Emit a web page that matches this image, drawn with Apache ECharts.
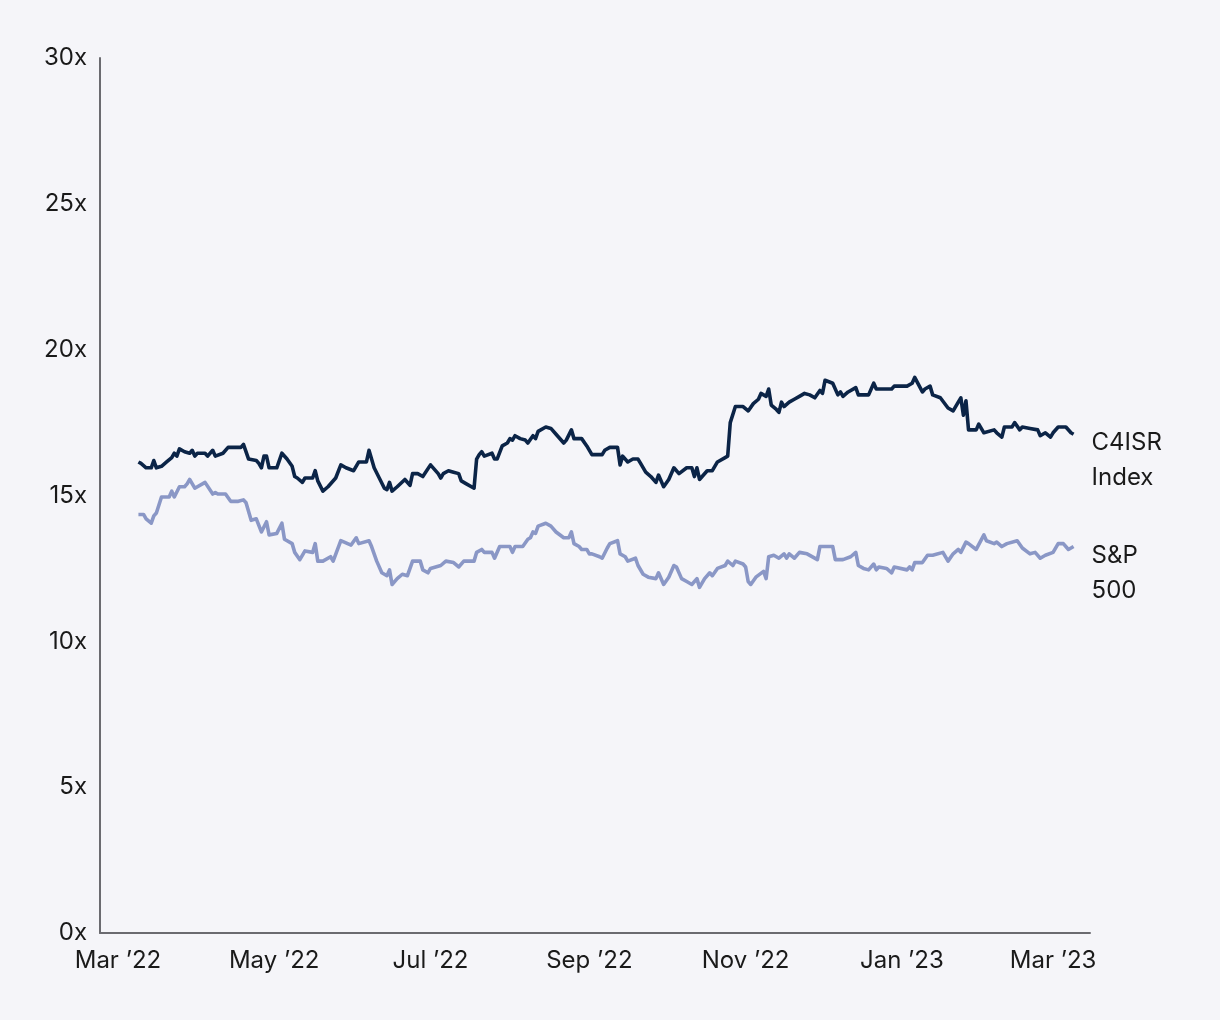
<!DOCTYPE html>
<html>
<head>
<meta charset="utf-8">
<script src="https://cdn.jsdelivr.net/npm/echarts@6/dist/echarts.min.js"></script>
<style>
html,body{margin:0;padding:0;background:#f5f5f9;}
#chart{width:1220px;height:1020px;}
</style>
</head>
<body>
<div id="chart"></div>
<script>
const c4Dates = ["2022-03-09","2022-03-10","2022-03-12","2022-03-14","2022-03-15","2022-03-16","2022-03-18","2022-03-20","2022-03-22","2022-03-23","2022-03-24","2022-03-25","2022-03-27","2022-03-29","2022-03-30","2022-03-31","2022-04-01","2022-04-04","2022-04-05","2022-04-07","2022-04-08","2022-04-11","2022-04-13","2022-04-18","2022-04-19","2022-04-21","2022-04-24","2022-04-25","2022-04-26","2022-04-27","2022-04-28","2022-04-29","2022-05-02","2022-05-04","2022-05-06","2022-05-08","2022-05-09","2022-05-10","2022-05-12","2022-05-13","2022-05-16","2022-05-17","2022-05-18","2022-05-20","2022-05-22","2022-05-25","2022-05-27","2022-05-29","2022-06-01","2022-06-03","2022-06-06","2022-06-07","2022-06-09","2022-06-11","2022-06-13","2022-06-14","2022-06-15","2022-06-16","2022-06-18","2022-06-21","2022-06-23","2022-06-24","2022-06-26","2022-06-28","2022-07-01","2022-07-04","2022-07-05","2022-07-06","2022-07-08","2022-07-10","2022-07-12","2022-07-13","2022-07-15","2022-07-18","2022-07-19","2022-07-20","2022-07-21","2022-07-22","2022-07-25","2022-07-26","2022-07-27","2022-07-29","2022-07-31","2022-08-01","2022-08-02","2022-08-03","2022-08-05","2022-08-07","2022-08-08","2022-08-10","2022-08-11","2022-08-12","2022-08-15","2022-08-17","2022-08-19","2022-08-22","2022-08-23","2022-08-25","2022-08-26","2022-08-29","2022-08-31","2022-09-02","2022-09-06","2022-09-07","2022-09-09","2022-09-12","2022-09-13","2022-09-14","2022-09-16","2022-09-18","2022-09-20","2022-09-21","2022-09-23","2022-09-25","2022-09-27","2022-09-28","2022-09-30","2022-10-02","2022-10-04","2022-10-06","2022-10-09","2022-10-11","2022-10-12","2022-10-13","2022-10-14","2022-10-17","2022-10-19","2022-10-21","2022-10-24","2022-10-25","2022-10-26","2022-10-28","2022-10-31","2022-11-02","2022-11-04","2022-11-06","2022-11-07","2022-11-09","2022-11-10","2022-11-11","2022-11-13","2022-11-14","2022-11-15","2022-11-16","2022-11-18","2022-11-20","2022-11-22","2022-11-24","2022-11-26","2022-11-28","2022-11-30","2022-12-01","2022-12-02","2022-12-05","2022-12-07","2022-12-08","2022-12-09","2022-12-11","2022-12-14","2022-12-15","2022-12-19","2022-12-21","2022-12-22","2022-12-28","2022-12-29","2023-01-03","2023-01-05","2023-01-06","2023-01-09","2023-01-10","2023-01-12","2023-01-13","2023-01-16","2023-01-19","2023-01-21","2023-01-23","2023-01-24","2023-01-25","2023-01-26","2023-01-27","2023-01-30","2023-01-31","2023-02-02","2023-02-06","2023-02-07","2023-02-09","2023-02-10","2023-02-13","2023-02-14","2023-02-16","2023-02-17","2023-02-20","2023-02-23","2023-02-24","2023-02-26","2023-02-28","2023-03-01","2023-03-03","2023-03-06","2023-03-08","2023-03-09"];
const c4Values = [16.15,16.1,15.95,15.95,16.2,15.95,16.0,16.15,16.3,16.45,16.35,16.6,16.5,16.45,16.55,16.35,16.45,16.45,16.35,16.55,16.35,16.45,16.65,16.65,16.75,16.25,16.2,16.1,15.95,16.35,16.35,15.95,15.95,16.45,16.25,16.0,15.65,15.6,15.45,15.6,15.6,15.85,15.5,15.15,15.3,15.6,16.05,15.95,15.85,16.15,16.15,16.55,15.95,15.6,15.25,15.2,15.45,15.15,15.3,15.55,15.35,15.75,15.75,15.65,16.05,15.75,15.6,15.75,15.85,15.8,15.75,15.5,15.4,15.25,16.25,16.4,16.5,16.35,16.45,16.25,16.25,16.7,16.8,16.95,16.9,17.05,16.95,16.9,16.8,17.05,16.95,17.2,17.35,17.3,17.1,16.8,16.9,17.25,16.95,16.95,16.7,16.4,16.4,16.55,16.65,16.65,16.05,16.35,16.15,16.25,16.25,16.1,15.8,15.65,15.45,15.7,15.3,15.55,15.95,15.75,15.95,15.95,15.65,15.95,15.55,15.85,15.85,16.15,16.3,16.35,17.5,18.05,18.05,17.9,18.15,18.3,18.5,18.4,18.65,18.1,17.95,17.85,18.2,18.05,18.2,18.3,18.4,18.5,18.45,18.35,18.6,18.5,18.95,18.85,18.45,18.55,18.4,18.55,18.7,18.45,18.45,18.85,18.65,18.65,18.75,18.75,18.85,19.05,18.55,18.65,18.75,18.45,18.35,18.0,17.9,18.2,18.35,17.75,18.25,17.25,17.25,17.45,17.15,17.25,17.15,17.0,17.35,17.35,17.5,17.25,17.35,17.3,17.25,17.05,17.15,17.0,17.15,17.35,17.35,17.15,17.1];

const spDates = ["2022-03-09","2022-03-11","2022-03-12","2022-03-14","2022-03-15","2022-03-16","2022-03-18","2022-03-21","2022-03-22","2022-03-23","2022-03-25","2022-03-27","2022-03-28","2022-03-29","2022-03-31","2022-04-04","2022-04-07","2022-04-08","2022-04-09","2022-04-12","2022-04-14","2022-04-17","2022-04-19","2022-04-20","2022-04-22","2022-04-24","2022-04-26","2022-04-28","2022-04-29","2022-05-02","2022-05-04","2022-05-05","2022-05-08","2022-05-09","2022-05-11","2022-05-13","2022-05-16","2022-05-17","2022-05-18","2022-05-20","2022-05-23","2022-05-24","2022-05-27","2022-05-31","2022-06-02","2022-06-03","2022-06-07","2022-06-08","2022-06-10","2022-06-12","2022-06-14","2022-06-15","2022-06-16","2022-06-18","2022-06-20","2022-06-22","2022-06-24","2022-06-27","2022-06-28","2022-06-30","2022-07-01","2022-07-05","2022-07-07","2022-07-10","2022-07-12","2022-07-14","2022-07-18","2022-07-19","2022-07-21","2022-07-22","2022-07-25","2022-07-26","2022-07-28","2022-08-01","2022-08-02","2022-08-03","2022-08-06","2022-08-08","2022-08-09","2022-08-10","2022-08-11","2022-08-12","2022-08-15","2022-08-17","2022-08-19","2022-08-22","2022-08-24","2022-08-25","2022-08-26","2022-08-28","2022-08-29","2022-08-31","2022-09-01","2022-09-02","2022-09-05","2022-09-06","2022-09-08","2022-09-09","2022-09-12","2022-09-13","2022-09-15","2022-09-16","2022-09-19","2022-09-20","2022-09-22","2022-09-24","2022-09-27","2022-09-28","2022-09-30","2022-10-02","2022-10-04","2022-10-05","2022-10-07","2022-10-09","2022-10-11","2022-10-13","2022-10-14","2022-10-16","2022-10-18","2022-10-19","2022-10-21","2022-10-24","2022-10-25","2022-10-27","2022-10-28","2022-10-31","2022-11-01","2022-11-02","2022-11-03","2022-11-05","2022-11-08","2022-11-09","2022-11-10","2022-11-12","2022-11-14","2022-11-16","2022-11-17","2022-11-18","2022-11-20","2022-11-22","2022-11-25","2022-11-29","2022-11-30","2022-12-05","2022-12-06","2022-12-09","2022-12-12","2022-12-14","2022-12-15","2022-12-17","2022-12-19","2022-12-21","2022-12-22","2022-12-23","2022-12-26","2022-12-28","2022-12-29","2023-01-03","2023-01-04","2023-01-05","2023-01-06","2023-01-09","2023-01-11","2023-01-13","2023-01-17","2023-01-19","2023-01-21","2023-01-23","2023-01-24","2023-01-26","2023-01-27","2023-01-30","2023-02-02","2023-02-03","2023-02-06","2023-02-07","2023-02-09","2023-02-11","2023-02-15","2023-02-17","2023-02-20","2023-02-22","2023-02-24","2023-02-26","2023-03-01","2023-03-03","2023-03-05","2023-03-07","2023-03-09"];
const spValues = [14.35,14.35,14.2,14.05,14.3,14.4,14.95,14.95,15.15,14.95,15.3,15.3,15.4,15.55,15.25,15.45,15.05,15.1,15.05,15.05,14.8,14.8,14.85,14.75,14.15,14.2,13.75,14.1,13.65,13.7,14.05,13.5,13.35,13.05,12.8,13.1,13.05,13.35,12.75,12.75,12.9,12.75,13.45,13.3,13.55,13.35,13.45,13.25,12.75,12.35,12.25,12.45,11.95,12.15,12.3,12.25,12.75,12.75,12.45,12.35,12.5,12.6,12.75,12.7,12.55,12.75,12.75,13.05,13.15,13.05,13.05,12.85,13.25,13.25,13.05,13.25,13.25,13.5,13.55,13.75,13.7,13.95,14.05,13.95,13.75,13.55,13.55,13.75,13.35,13.25,13.15,13.15,13.0,13.0,12.9,12.85,13.2,13.35,13.45,13.0,12.9,12.75,12.85,12.6,12.3,12.2,12.15,12.35,11.95,12.2,12.6,12.55,12.15,12.05,11.95,12.15,11.85,12.15,12.35,12.25,12.5,12.6,12.75,12.6,12.75,12.65,12.55,12.05,11.95,12.2,12.4,12.15,12.9,12.95,12.85,13.0,12.85,13.0,12.85,13.05,13.0,12.8,13.25,13.25,12.8,12.8,12.9,13.05,12.6,12.5,12.45,12.65,12.45,12.55,12.5,12.35,12.55,12.45,12.55,12.45,12.7,12.7,12.95,12.95,13.05,12.75,13.0,13.15,13.05,13.4,13.35,13.15,13.65,13.45,13.35,13.4,13.25,13.35,13.45,13.2,13.0,13.05,12.85,12.95,13.05,13.35,13.35,13.15,13.25];

const xTickDates = ["2022-03-01","2022-05-01","2022-07-01","2022-09-01","2022-11-01","2023-01-01","2023-03-01"];
const yTicks = [0,5,10,15,20,25,30];
const seriesNames = ["C4ISR\nIndex","S&P\n500"];
const monthNames = ["Jan","Feb","Mar","Apr","May","Jun","Jul","Aug","Sep","Oct","Nov","Dec"];

function toTs(s){const p=s.split('-').map(Number);return Date.UTC(p[0],p[1]-1,p[2]);}
function pairs(d,v){return d.map((x,i)=>[toTs(x),v[i]]);}

const FONT = 'Inter';
const FS = 24;
const chart = echarts.init(document.getElementById('chart'));
chart.setOption({
  backgroundColor:'#f5f5f9',
  animation:false,
  textStyle:{fontFamily:FONT},
  grid:{left:100,right:130,top:58,bottom:87,containLabel:false},
  xAxis:{
    type:'value',
    min:toTs("2022-02-22"),
    max:toTs("2023-03-15")+10*3600*1000,
    axisLine:{show:true,onZero:false,lineStyle:{color:'#6b6b70',width:2}},
    axisTick:{show:false},
    splitLine:{show:false},
    axisLabel:{
      customValues:xTickDates.map(toTs),
      color:'#1a1a1a',fontSize:FS,fontFamily:FONT,margin:16,
      formatter:function(v){const d=new Date(v);return monthNames[d.getUTCMonth()]+' \u2019'+String(d.getUTCFullYear()).slice(2);}
    }
  },
  yAxis:{
    type:'value',min:0,max:30,interval:5,
    axisLine:{show:true,lineStyle:{color:'#6b6b70',width:2}},
    axisTick:{show:false},
    splitLine:{show:false},
    axisLabel:{customValues:yTicks,color:'#1a1a1a',fontSize:FS,fontFamily:FONT,margin:13,formatter:'{value}x'}
  },
  series:[
    {
      name:seriesNames[0],type:'line',showSymbol:false,symbol:'none',
      data:pairs(c4Dates,c4Values),
      lineStyle:{color:'#0b2447',width:3.6,join:'round'},
      itemStyle:{color:'#0b2447'},
      endLabel:{show:true,formatter:function(){return seriesNames[0];},color:'#1a1a1a',fontSize:FS,fontFamily:FONT,lineHeight:35,distance:18,offset:[0,26]}
    },
    {
      name:seriesNames[1],type:'line',showSymbol:false,symbol:'none',
      data:pairs(spDates,spValues),
      lineStyle:{color:'#8a97c6',width:3.6,join:'round'},
      itemStyle:{color:'#8a97c6'},
      endLabel:{show:true,formatter:function(){return seriesNames[1];},color:'#1a1a1a',fontSize:FS,fontFamily:FONT,lineHeight:35,distance:18,offset:[0,27]}
    }
  ]
});
</script>
</body>
</html>
